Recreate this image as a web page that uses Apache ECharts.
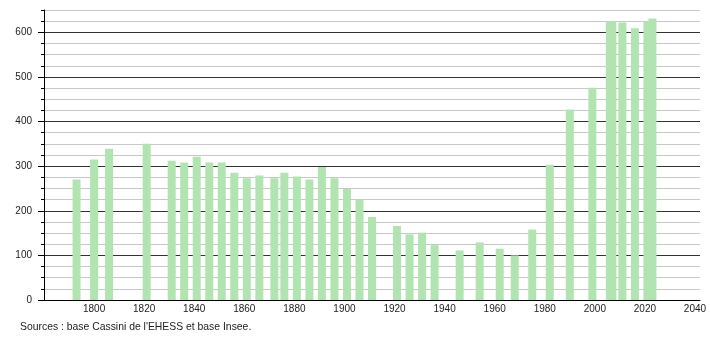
<!DOCTYPE html>
<html><head><meta charset="utf-8">
<script src="https://cdn.jsdelivr.net/npm/echarts@6/dist/echarts.min.js"></script>
<style>html,body{margin:0;padding:0;background:#fff}#c{width:710px;height:340px}</style>
</head><body><div id="c"></div>
<script>
const years = [1793,1800,1806,1821,1831,1836,1841,1846,1851,1856,1861,1866,1872,1876,1881,1886,1891,1896,1901,1906,1911,1921,1926,1931,1936,1946,1954,1962,1968,1975,1982,1990,1999,2006,2007,2011,2016,2021,2023];
const population = [270,315,339,350,312,308,321,308,308,285,273,279,273,285,277,270,298,273,249,225,186,166,147,151,123,111,129,115,100,158,303,427,476,625,625,622,609,625,631];
const majorTicks = [0,100,200,300,400,500,600];
const sourceText = "Sources : base Cassini de l'EHESS et base Insee.";

const chart = echarts.init(document.getElementById('c'), null, {renderer:'canvas'});
const font = 'Liberation Sans, Arial, sans-serif';
chart.setOption({
  animation:false,
  grid:{left:44,right:10,top:10,bottom:40,containLabel:false},
  xAxis:{type:'value',min:1780,max:2042,interval:20,
    axisLine:{show:true,lineStyle:{color:'#000',width:1}},
    axisTick:{show:false},
    splitLine:{show:false},
    axisLabel:{showMinLabel:false,showMaxLabel:false,color:'#222',fontFamily:font,fontSize:10,margin:4,
      formatter:v=> (v%20===0 && v>1780 && v<=2040) ? String(v) : ''}
  },
  yAxis:[{type:'value',min:0,max:650,interval:25,
    axisLine:{show:true,lineStyle:{color:'#000',width:1}},
    axisTick:{show:true,length:3,lineStyle:{color:'#000'}},
    splitLine:{show:true,lineStyle:{color:['#333','#c8c8c8','#c8c8c8','#c8c8c8'],width:1}},
    axisLabel:{color:'#222',fontFamily:font,fontSize:10,margin:12,
      formatter:v=> v%100===0 ? String(v) : ''}
  },{type:'value',min:0,max:650,position:'left',
    axisLine:{show:false},
    axisTick:{show:true,length:6,customValues:majorTicks,lineStyle:{color:'#000'}},
    splitLine:{show:false},
    axisLabel:{show:false}
  }],
  series:[{type:'bar',barWidth:8,itemStyle:{color:'#b2e4b2'},
    data: years.map((y,i)=>[y,population[i]])}],
  graphic:[{type:'text',left:20,top:322,style:{text:sourceText,fill:'#222',font:'10.4px '+font}}]
});
</script></body></html>
